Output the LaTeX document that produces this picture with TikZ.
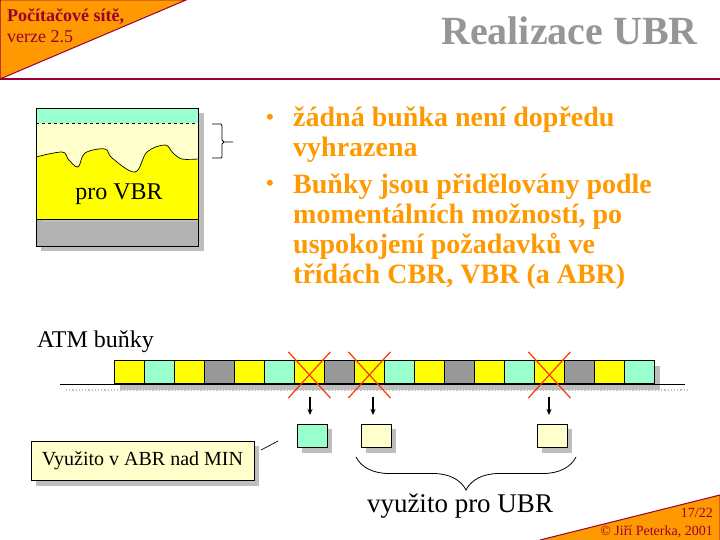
\documentclass[tikz,border=0pt]{standalone}
\usepackage{fontspec}
\setmainfont{Liberation Serif}
\usetikzlibrary{arrows.meta,calc,decorations.pathreplacing}
\definecolor{slorange}{HTML}{FF9900}
\definecolor{slmaroon}{HTML}{990033}
\definecolor{titlegray}{HTML}{969696}
\definecolor{cY}{HTML}{FFFF00}
\definecolor{cT}{HTML}{99FFCC}
\definecolor{cG}{HTML}{999999}
\definecolor{cL}{HTML}{FFFFCC}
\definecolor{cB}{HTML}{B2B2B2}
\definecolor{crossred}{HTML}{FF3300}
\definecolor{shgray}{HTML}{BEBEBE}
\newcommand{\cellW}{30}
\newcommand{\cellX}{114}
\tikzset{
  atmcell/.style ={draw=black,line width=0.8pt,minimum width=\cellW pt,minimum height=23pt,inner sep=0pt},
  outcell/.style ={atmcell,minimum height=23pt},
  notebox/.style ={draw=black,line width=0.8pt,fill=cL,minimum width=223pt,minimum height=39pt,inner sep=0pt,
                   font=\fontsize{20}{22}\selectfont},
  bultext/.style ={anchor=base west,inner sep=0pt,align=left,text=slorange,
                   font=\fontsize{28}{30}\selectfont\bfseries},
  bulmark/.style ={anchor=base,inner sep=0pt,text=slorange,font=\fontsize{22}{30}\selectfont\bfseries},
  xline/.style   ={crossred,line width=1.2pt},
  downarr/.style ={line width=1.2pt,-{Stealth[length=6pt,width=5pt]}},
  plainlab/.style={inner sep=0pt},
}
\pgfdeclarelayer{shadows}
\pgfsetlayers{shadows,main}
\newcommand{\boxshadow}[1]{\begin{pgfonlayer}{shadows}
  \fill[shgray] ($(#1.south west)+(5,5)$) rectangle ($(#1.north east)+(5,5)$);\end{pgfonlayer}}
\begin{document}
\begin{tikzpicture}[x=1pt,y=-1pt]
  \useasboundingbox (0,0) rectangle (720,540);
  % header and footer corners
  \draw[slmaroon,line width=1.6pt] (0,79) -- (720,79);
  \filldraw[fill=slorange,draw=slmaroon,line width=1pt] (0,0) -- (186,0) -- (0,79) -- cycle;
  \filldraw[fill=slorange,draw=slmaroon,line width=1pt] (540,540) -- (720,495) -- (720,540);
  \node[anchor=base west,inner sep=0pt,text=slmaroon,font=\fontsize{18}{20}\selectfont\bfseries] (course) at (7,22) {Počítačové sítě,};
  \node[anchor=base west,inner sep=0pt,text=slmaroon,font=\fontsize{18}{20}\selectfont] (version) at (7,43) {verze 2.5};
  \node[anchor=base east,inner sep=0pt,text=titlegray,font=\fontsize{40}{44}\selectfont\bfseries] (title) at (698,45) {Realizace UBR};
  \node[anchor=base east,inner sep=0pt,text=slmaroon,font=\fontsize{14}{16}\selectfont] (pgnum) at (713,517) {17/22};
  \node[anchor=base east,inner sep=0pt,text=slmaroon,font=\fontsize{14}{16}\selectfont] (author) at (713,535) {© Jiří Peterka, 2001};

  % bandwidth box
  \fill[shgray] (198,113) rectangle (204,251);
  \fill[shgray] (41,246) rectangle (204,251);
  \fill[cT] (36,108) rectangle (198,123);
  \fill[cL] (36,123) rectangle (198,219);
  \fill[cY] (36,219) -- plot[smooth,tension=0.6] coordinates {(36,157) (62,152) (68,159) (78,167) (85,153) (105,149) (112,158) (135,172) (147,152) (165,145) (173,153) (182,159) (198,159)} -- (198,219) -- cycle;
  \draw[line width=0.7pt] plot[smooth,tension=0.6] coordinates {(36,157) (62,152) (68,159) (78,167) (85,153) (105,149) (112,158) (135,172) (147,152) (165,145) (173,153) (182,159) (198,159)};
  \draw[dashed,line width=0.7pt] (36,123) -- (196,123);
  \fill[cB] (36,219) rectangle (198,246);
  \fill[shgray] (42,219) rectangle (198,222);
  \draw[line width=0.8pt] (36,219) -- (198,219);
  \draw[line width=0.8pt] (36,108) rectangle (198,246);
  \node[anchor=base,plainlab,font=\fontsize{24}{26}\selectfont] (vbr) at (119,200) {pro VBR};
  \draw[line width=0.8pt] (212,124) -- (221,124) -- (222,126) -- (222,140) -- (224,142) -- (233,142)
        (224,142) -- (222,144) -- (222,157) -- (221,158) -- (212,158);

  % bullets
  \node[bulmark] (dot1) at (270,125) {•};
  \node[bultext] (bul1) at (293,157) {žádná buňka není dopředu\\vyhrazena};
  \node[bulmark] (dot2) at (270,191) {•};
  \node[bultext] (bul2) at (293,283) {Buňky jsou přidělovány podle\\momentálních možností, po\\uspokojení požadavků ve\\třídách CBR, VBR (a ABR)};

  % cell stream
  \node[anchor=base west,plainlab,font=\fontsize{24}{26}\selectfont] (atm) at (37,347) {ATM buňky};
  \fill[shgray] (120,366) rectangle (660,390);
  \draw[shgray,dotted,line width=1.2pt] (66,390) -- (690,390);
  \draw[line width=1pt] (60,384) -- (685,384);
  \foreach \c [count=\i] in {Y,T,Y,G,Y,T,Y,G,Y,T,Y,G,Y,T,Y,G,Y,T}{
    \node[atmcell,fill=c\c,anchor=north west] (cell\i) at (\cellX+\cellW*\i-\cellW,360) {};
  }
  \foreach \i in {7,9,15}{
    \draw[xline] ($(cell\i.center)+(-21,-20)$) -- ($(cell\i.center)+(21,26)$);
    \draw[xline] ($(cell\i.center)+(21,-20)$) -- ($(cell\i.center)+(-21,26)$);
  }

  % cells taken out
  \node[outcell,fill=cT] (outA) at (312,436) {};
  \node[outcell,fill=cL] (outB) at (376,436) {};
  \node[outcell,fill=cL] (outC) at (552,436) {};
  \boxshadow{outA} \boxshadow{outB} \boxshadow{outC}
  \foreach \o/\x in {A/310,B/373,C/549}{
    \coordinate (top\o) at (\x,397);
    \coordinate (tip\o) at (\x,415);
    \draw[downarr] (top\o) -- (tip\o);
  }

  % notes
  \node[notebox] (abrnote) at (142.5,461) {Využito v ABR nad MIN};
  \boxshadow{abrnote}
  \coordinate (ptrS) at (261,450);
  \coordinate (ptrE) at (278,441);
  \draw[line width=0.7pt] (ptrS) -- (ptrE);
  \coordinate (brL) at (356,457);
  \coordinate (brR) at (576,457);
  \draw[line width=0.8pt,decorate,decoration={brace,mirror,amplitude=33pt}] (brL) -- (brR);
  \node[anchor=base,plainlab,font=\fontsize{27}{30}\selectfont] (ubr) at (460,512) {využito pro UBR};
\end{tikzpicture}
\end{document}
